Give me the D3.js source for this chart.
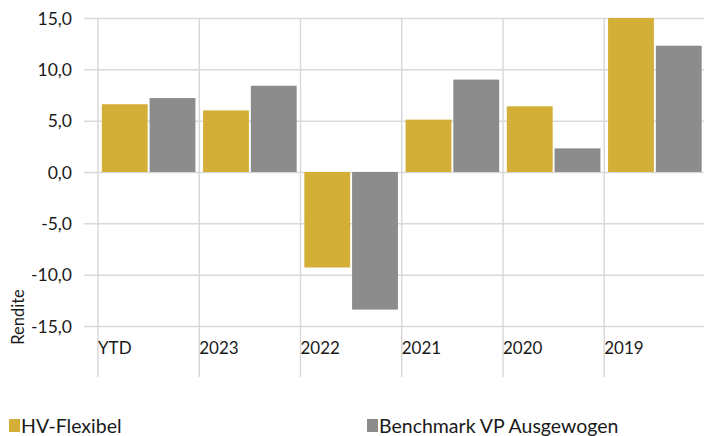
<!DOCTYPE html>
<html>
<head>
<meta charset="utf-8">
<script src="https://cdn.jsdelivr.net/npm/d3@7"></script>
<style>
  body { margin: 0; background: #fff; }
  svg text { font-family: Lato, "Open Sans", sans-serif; fill: #1a1a1a; }
</style>
</head>
<body>
<svg id="chart" width="704" height="436"></svg>
<script>
const categories = ['YTD', '2023', '2022', '2021', '2020', '2019'];
const flexibel = [6.6, 6.0, -9.3, 5.1, 6.4, 15.0];
const benchmark = [7.2, 8.4, -13.4, 9.0, 2.3, 12.3];
const seriesNames = ['HV-Flexibel', 'Benchmark VP Ausgewogen'];
const yTicks = [-15, -10, -5, 0, 5, 10, 15];

const colors = ['#D4AF37', '#8C8C8C'];
const grid = '#D9D9D9';

const svg = d3.select('#chart');
const fmt = d => d3.format('.1f')(d).replace('.', ',').replace('−', '-');

let y = d3.scaleLinear().domain([-15, 15]).range([326, 18]);
let x = d3.scaleBand().domain(categories).range([98, 705.5]);
let xInner = d3.scaleBand().domain([0, 1]).range([0, x.bandwidth()]).paddingInner(0.04).paddingOuter(0.08);

// horizontal gridlines + y labels
const yAxis = d3.axisLeft(y).tickValues(yTicks).tickFormat(fmt).tickSize(-(704 - 84)).tickSizeOuter(0);
const gy = svg.append('g').attr('transform', 'translate(84,0)').call(yAxis);
gy.select('.domain').remove();
gy.selectAll('.tick line').attr('stroke', grid).attr('stroke-width', 1.5).attr('x1', 0).attr('x2', 704 - 84);
gy.selectAll('.tick text').attr('x', -12).attr('font-size', 17.5).attr('dy', '0.35em').style('font-family', 'Lato');

// vertical gridlines
const xLines = categories.map(c => x(c)).concat([x.range()[1]]);
svg.append('g').selectAll('line').data(xLines).enter().append('line')
  .attr('x1', d => d).attr('x2', d => d)
  .attr('y1', 18).attr('y2', 377)
  .attr('stroke', grid).attr('stroke-width', 1.5);

// bars
const data = categories.map((c, i) => ({cat: c, vals: [flexibel[i], benchmark[i]]}));
const groups = svg.append('g').selectAll('g').data(data).enter().append('g')
  .attr('transform', d => `translate(${x(d.cat)},0)`);
groups.selectAll('rect').data(d => d.vals).enter().append('rect')
  .attr('x', (d, i) => xInner(i))
  .attr('width', xInner.bandwidth())
  .attr('y', d => y(Math.max(0, d)))
  .attr('height', d => Math.abs(y(d) - y(0)))
  .attr('fill', (d, i) => colors[i]);

// category labels (low position)
svg.append('g').selectAll('text').data(categories).enter().append('text')
  .attr('x', d => x(d))
  .attr('y', 354)
  .attr('font-size', 17)
  .text(d => d);

// axis title
svg.append('text')
  .attr('transform', 'translate(24,317) rotate(-90)')
  .attr('text-anchor', 'middle')
  .attr('font-size', 16.5)
  .text('Rendite');

// legend
const legendX = [9, 367];
const legend = svg.append('g').selectAll('g').data(seriesNames).enter().append('g')
  .attr('transform', (d, i) => `translate(${legendX[i]},419)`);
legend.append('rect').attr('width', 11).attr('height', 13).attr('fill', (d, i) => colors[i]);
legend.append('text').attr('x', 12).attr('y', 13.5).attr('font-size', 19.5).text(d => d);
</script>
</body>
</html>
